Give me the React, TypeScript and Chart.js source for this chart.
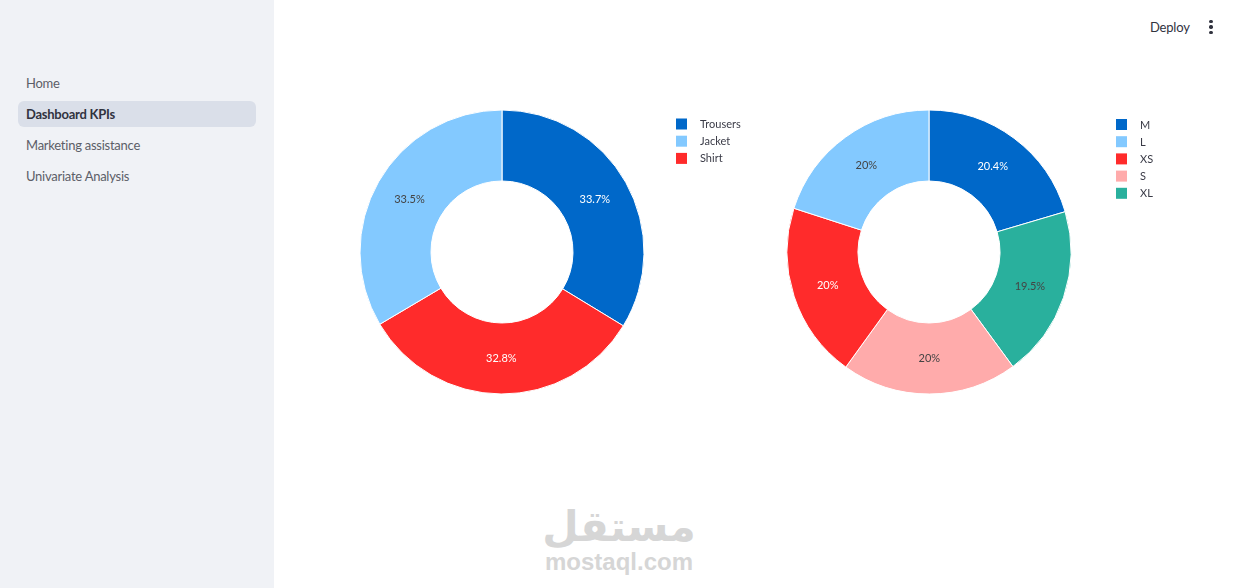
import React, { useEffect, useRef } from "react";
import { Chart, registerables } from "chart.js";

Chart.register(...registerables);

// ---------- data ----------
const productCategories = ["Trousers", "Jacket", "Shirt"];
const productShares = [33.7, 33.5, 32.8];
const productColors = ["#0068C9", "#83C9FF", "#FF2B2B"];

const sizeCategories = ["M", "L", "XS", "S", "XL"];
const sizeShares = [20.4, 20, 20, 20, 19.5];
const sizeColors = ["#0068C9", "#83C9FF", "#FF2B2B", "#FFABAB", "#29B09D"];

const navItems = ["Home", "Dashboard KPIs", "Marketing assistance", "Univariate Analysis"];
const activeNav = 1;

const UI_FONT = '"Source Sans Pro", Lato, "Noto Sans", sans-serif';

function isLight(hex: string) {
  const r = parseInt(hex.slice(1, 3), 16);
  const g = parseInt(hex.slice(3, 5), 16);
  const b = parseInt(hex.slice(5, 7), 16);
  return 0.299 * r + 0.587 * g + 0.114 * b > 128;
}

function fmtPct(v: number, total: number) {
  let s = ((v / total) * 100).toFixed(1);
  if (s.endsWith(".0")) s = s.slice(0, -2);
  return s + "%";
}

type DonutProps = {
  labels: string[];
  values: number[];
  colors: string[];
  left: number;
  top: number;
  width: number;
  height: number;
  padding: { left: number; right: number; top: number; bottom: number };
  legendX: number;
  legendY: number;
};

function Donut(props: DonutProps) {
  const ref = useRef<HTMLCanvasElement>(null);
  useEffect(() => {
    const { labels, values, colors, padding, legendX, legendY } = props;
    const n = labels.length;
    // plotly draws legend order counter-clockwise from the first slice; convert to clockwise
    const order = [0, ...Array.from({ length: n - 1 }, (_, i) => n - 1 - i)];
    const total = values.reduce((a, b) => a + b, 0);

    const labelPlugin = {
      id: "sliceLabels",
      afterDatasetsDraw(chart: any) {
        const ctx = chart.ctx;
        const meta = chart.getDatasetMeta(0);
        const ds = chart.data.datasets[0];
        ctx.save();
        ctx.font = `11px ${UI_FONT}`;
        ctx.textAlign = "center";
        ctx.textBaseline = "middle";
        meta.data.forEach((arc: any, i: number) => {
          const pos = arc.tooltipPosition();
          const col = ds.backgroundColor[i];
          ctx.fillStyle = isLight(col) ? "#444444" : "#ffffff";
          ctx.fillText(fmtPct(ds.data[i], total), pos.x, pos.y);
        });
        ctx.restore();
      },
    };

    const legendPlugin = {
      id: "sideLegend",
      afterDraw(chart: any) {
        const ctx = chart.ctx;
        ctx.save();
        ctx.font = `11px ${UI_FONT}`;
        ctx.textBaseline = "middle";
        ctx.textAlign = "left";
        labels.forEach((lab, i) => {
          const cy = legendY + i * 17.2;
          ctx.fillStyle = colors[i];
          ctx.fillRect(legendX, cy - 5.5, 11, 11);
          ctx.fillStyle = "#3a3b47";
          ctx.fillText(lab, legendX + 24, cy + 0.5);
        });
        ctx.restore();
      },
    };

    const chart = new Chart(ref.current as HTMLCanvasElement, {
      type: "doughnut",
      data: {
        labels: order.map((i) => labels[i]),
        datasets: [
          {
            data: order.map((i) => values[i]),
            backgroundColor: order.map((i) => colors[i]),
            borderColor: "#ffffff",
            borderWidth: 1,
            hoverOffset: 0,
          },
        ],
      },
      options: {
        responsive: false,
        animation: false,
        cutout: "50%",
        events: [],
        layout: { padding },
        plugins: { legend: { display: false }, tooltip: { enabled: false } },
      },
      plugins: [labelPlugin, legendPlugin],
    } as any);
    return () => chart.destroy();
  }, []);
  return (
    <canvas
      ref={ref}
      width={props.width}
      height={props.height}
      style={{ position: "absolute", left: props.left, top: props.top, width: props.width, height: props.height }}
    />
  );
}

export default function App() {
  return (
    <div style={{ position: "relative", width: 1240, height: 588, overflow: "hidden", background: "#ffffff", fontFamily: UI_FONT }}>
      <style>{"body{margin:0}"}</style>
      {/* sidebar */}
      <div style={{ position: "absolute", left: 0, top: 0, width: 274, height: 588, background: "#f0f2f6" }}>
        {navItems.map((t, i) => (
          <div
            key={t}
            style={{
              position: "absolute",
              left: 18,
              top: 70 + i * 31,
              width: 238,
              height: 26,
              lineHeight: "26px",
              paddingLeft: 8,
              boxSizing: "border-box",
              borderRadius: 6,
              background: i === activeNav ? "#dadfe9" : "transparent",
              color: i === activeNav ? "#31333F" : "#5c5e68",
              fontWeight: i === activeNav ? 700 : 400,
              fontSize: 13,
              letterSpacing: -0.25,
            }}
          >
            {t}
          </div>
        ))}
      </div>

      {/* header */}
      <div style={{ position: "absolute", left: 1150, top: 17, height: 20, lineHeight: "20px", fontSize: 13, letterSpacing: -0.2, color: "#31333F" }}>Deploy</div>
      {[21.5, 27, 32.5].map((y) => (
        <div key={y} style={{ position: "absolute", left: 1209.3, top: y - 1.7, width: 3.4, height: 3.4, borderRadius: "50%", background: "#31333F" }} />
      ))}

      {/* charts */}
      <Donut
        labels={productCategories}
        values={productShares}
        colors={productColors}
        left={330}
        top={80}
        width={450}
        height={350}
        padding={{ left: 29.5, top: 29.5, right: 135.5, bottom: 35.5 }}
        legendX={346}
        legendY={44}
      />
      <Donut
        labels={sizeCategories}
        values={sizeShares}
        colors={sizeColors}
        left={760}
        top={80}
        width={450}
        height={350}
        padding={{ left: 26.5, top: 29.5, right: 138.5, bottom: 35.5 }}
        legendX={356}
        legendY={44.5}
      />

      {/* watermark */}
      <div
        dir="rtl"
        style={{
          position: "absolute",
          left: 519,
          top: 492,
          width: 200,
          textAlign: "center",
          fontFamily: '"DejaVu Sans", sans-serif',
          fontWeight: 700,
          fontSize: 42,
          lineHeight: "70px",
          color: "#d6d6d6",
        }}
      >
        مستقل
      </div>
      <div
        style={{
          position: "absolute",
          left: 519,
          top: 548,
          width: 200,
          textAlign: "center",
          fontFamily: '"Liberation Sans", Arial, sans-serif',
          fontWeight: 700,
          fontSize: 24,
          lineHeight: "28px",
          color: "#d6d6d6",
        }}
      >
        mostaql.com
      </div>
    </div>
  );
}
